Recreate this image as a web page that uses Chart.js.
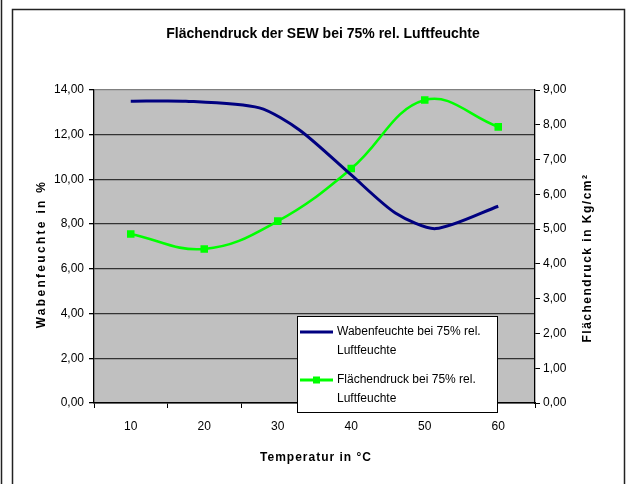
<!DOCTYPE html>
<html>
<head>
<meta charset="utf-8">
<script src="https://cdn.jsdelivr.net/npm/chart.js@4/dist/chart.umd.min.js"></script>
<style>
  html, body { margin: 0; padding: 0; background: #fff; }
  #wrap { width: 626px; height: 484px; position: relative; }
</style>
</head>
<body>
<div id="wrap"><canvas id="chart" width="626" height="484"></canvas></div>
<script>
// categories (Temperatur in °C) and values
const categories = ["10", "20", "30", "40", "50", "60"];
const flaechendruck = [4.86, 4.43, 5.23, 6.74, 8.71, 7.94];      // Kg/cm², right axis
const wabenTemp = [10, 17.5, 27.5, 33, 40, 46, 51.5, 60];       // blue series x positions
const wabenfeuchte = [13.5, 13.5, 13.2, 12.2, 10.2, 8.5, 7.8, 8.8]; // %, left axis
const leftTicks = { min: 0, max: 14, step: 2 };
const rightTicks = { min: 0, max: 9, step: 1 };

const FONT = "'Liberation Sans', Arial, sans-serif";
const comma = v => Number(v).toFixed(2).replace(".", ",");

// white background, outer frame and grey plot area
const backdrop = {
  id: "backdrop",
  beforeDraw(chart) {
    const { ctx, chartArea: a } = chart;
    ctx.save();
    ctx.fillStyle = "#fff";
    ctx.fillRect(0, 0, chart.width, chart.height);
    ctx.strokeStyle = "#222";
    ctx.lineWidth = 1.5;
    ctx.strokeRect(12.5, 9.5, 612, 500);
    ctx.beginPath();
    ctx.moveTo(1.5, 0);
    ctx.lineTo(1.5, chart.height);
    ctx.stroke();
    ctx.fillStyle = "#c0c0c0";
    ctx.fillRect(a.left, a.top, a.right - a.left, a.bottom - a.top);
    ctx.restore();
  }
};

// axis titles with the spaced-out lettering of the original
const axisTitles = {
  id: "axisTitles",
  afterDraw(chart) {
    const { ctx } = chart;
    ctx.save();
    ctx.fillStyle = "#000";
    ctx.font = "bold 12px " + FONT;
    ctx.textAlign = "center";
    ctx.textBaseline = "middle";

    ctx.letterSpacing = "1px";
    ctx.fillText("Temperatur in °C", 316, 458);

    ctx.save();
    ctx.translate(42, 254);
    ctx.rotate(-Math.PI / 2);
    ctx.letterSpacing = "2.3px";
    ctx.fillText("Wabenfeuchte in %", 0, 0);
    ctx.restore();

    ctx.save();
    ctx.translate(588, 258);
    ctx.rotate(-Math.PI / 2);
    ctx.letterSpacing = "1.5px";
    ctx.fillText("Flächendruck in Kg/cm²", 0, 0);
    ctx.restore();
    ctx.restore();
  }
};

// boxed legend with two-line entries, drawn over the plot
const boxLegend = {
  id: "boxLegend",
  afterDraw(chart) {
    const { ctx } = chart;
    const ds = chart.data.datasets;
    const x = 297, y = 316, w = 200, h = 96;
    ctx.save();
    ctx.fillStyle = "#fff";
    ctx.fillRect(x, y, w, h);
    ctx.strokeStyle = "#000";
    ctx.lineWidth = 1;
    ctx.strokeRect(x + 0.5, y + 0.5, w, h);
    ctx.font = "12px " + FONT;
    ctx.textBaseline = "middle";
    ctx.textAlign = "left";
    ds.forEach((d, i) => {
      const ly = y + 16 + i * 48;
      ctx.strokeStyle = d.borderColor;
      ctx.lineWidth = 3;
      ctx.beginPath();
      ctx.moveTo(x + 3, ly);
      ctx.lineTo(x + 36, ly);
      ctx.stroke();
      if (d.pointRadius > 0) {
        ctx.fillStyle = d.pointBackgroundColor;
        ctx.fillRect(x + 16, ly - 3.5, 7, 7);
      }
      ctx.fillStyle = "#000";
      const lines = d.label.split("\n");
      lines.forEach((t, j) => ctx.fillText(t, x + 40, ly + j * 19));
    });
    ctx.restore();
  }
};

const ctx = document.getElementById("chart").getContext("2d");
new Chart(ctx, {
  type: "line",
  data: {
    labels: categories,
    datasets: [
      {
        label: "Wabenfeuchte bei 75% rel.\nLuftfeuchte",
        data: wabenTemp.map((t, i) => ({ x: t, y: wabenfeuchte[i] })),
        xAxisID: "x2",
        yAxisID: "y",
        borderColor: "#000080",
        borderWidth: 3,
        pointRadius: 0,
        tension: 0.25
      },
      {
        label: "Flächendruck bei 75% rel.\nLuftfeuchte",
        data: flaechendruck,
        xAxisID: "x",
        yAxisID: "y1",
        borderColor: "#00ff00",
        borderWidth: 2.6,
        pointStyle: "rect",
        pointRadius: 3.5,
        pointBackgroundColor: "#00ff00",
        pointBorderColor: "#00ff00",
        tension: 0.4
      }
    ]
  },
  options: {
    responsive: false,
    animation: false,
    layout: { padding: { left: 20, right: 0, top: 0, bottom: 10 } },
    plugins: {
      legend: { display: false },
      tooltip: { enabled: false },
      title: {
        display: true,
        text: "Flächendruck der SEW bei 75% rel. Luftfeuchte",
        color: "#000",
        font: { family: FONT, size: 14, weight: "bold" },
        padding: { top: 26, bottom: 47.2 }
      }
    },
    scales: {
      x: {
        type: "category",
        offset: true,
        afterFit(s) { s.height = 71; },
        grid: { offset: true, drawOnChartArea: false, tickLength: 5, color: "#000" },
        border: { color: "#000", width: 1.5 },
        ticks: { color: "#000", font: { family: FONT, size: 12 }, padding: 11 }
      },
      x2: {
        type: "linear",
        display: false,
        min: 5,
        max: 65
      },
      y: {
        position: "left",
        min: leftTicks.min,
        max: leftTicks.max,
        afterFit(s) { s.width = 74; },
        grid: {
          color: c => (c.tick && c.tick.value === leftTicks.max ? "#808080" : "#333"),
          lineWidth: 1.3,
          tickLength: 5,
          tickColor: "#000"
        },
        border: { color: "#000", width: 1.3 },
        ticks: {
          stepSize: leftTicks.step,
          color: "#000",
          font: { family: FONT, size: 12 },
          padding: 5,
          callback: v => comma(v)
        }
      },
      y1: {
        position: "right",
        min: rightTicks.min,
        max: rightTicks.max,
        afterFit(s) { s.width = 91; },
        grid: { drawOnChartArea: false, tickLength: 5, color: "#000" },
        border: { color: "#000", width: 1.3 },
        ticks: {
          stepSize: rightTicks.step,
          color: "#000",
          font: { family: FONT, size: 12 },
          padding: 3,
          callback: v => comma(v)
        }
      }
    }
  },
  plugins: [backdrop, axisTitles, boxLegend]
});
</script>
</body>
</html>
